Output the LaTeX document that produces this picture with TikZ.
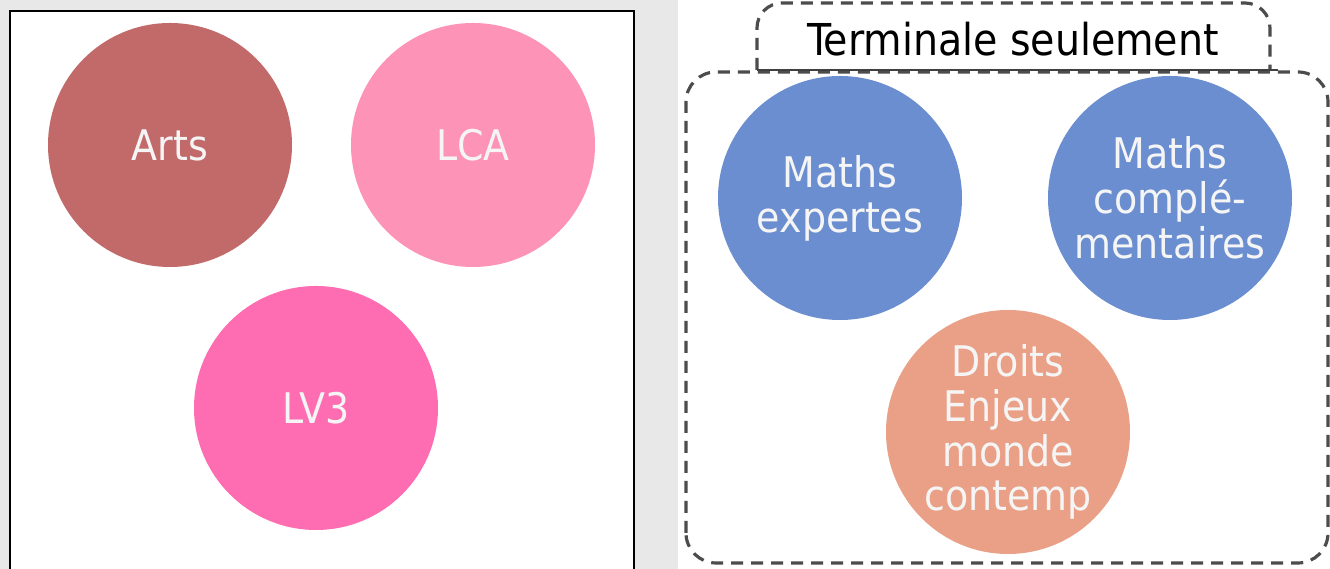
\documentclass[tikz,border=0pt]{standalone}
\usepackage{fontspec}
\setmainfont{DejaVu Sans Condensed}

\definecolor{arts}{HTML}{C26A6A}
\definecolor{lca}{HTML}{FD93B6}
\definecolor{lvtrois}{HTML}{FE6DB1}
\definecolor{maths}{HTML}{6A8ECF}
\definecolor{droits}{HTML}{E9A087}
\definecolor{fond}{HTML}{E8E8E8}

\tikzset{
  bulle/.style={circle,minimum size=4.88cm,inner sep=0pt,text=white!96!black,
    align=center,font=\fontsize{24}{25.5}\selectfont},
  cadre/.style={draw=black!70,line width=1.8pt,dash pattern=on 0.24cm off 0.16cm}
}

\begin{document}
\begin{tikzpicture}
\useasboundingbox (0,0) rectangle (26.6,11.38);
% fond
\fill[fond] (0,0) rectangle (26.6,11.38);
\fill[white] (13.56,0) rectangle (26.6,11.38);
% panneau de gauche
\draw[line width=1.2pt,fill=white] (0.2,-0.5) -- (0.2,11.16) -- (12.68,11.16) -- (12.68,-0.5);
\node[bulle,fill=arts] (arts) at (3.4,8.48) {Arts};
\node[bulle,fill=lca] (lca) at (9.46,8.48) {LCA};
\node[bulle,fill=lvtrois] (lv3) at (6.32,3.22) {LV3};
% panneau de droite
\draw[cadre,rounded corners=0.6cm] (13.72,0.12) rectangle (26.56,9.94);
\draw[cadre,rounded corners=0.5cm] (15.14,9.98) -- (15.14,11.32) -- (25.4,11.32) -- (25.4,9.98);
\draw[black!75,line width=1.6pt] (15.14,9.98) -- (25.56,9.98);
\node[font=\fontsize{25}{25}\selectfont] (titre) at (20.26,10.6) {Terminale seulement};
\node[bulle,fill=maths] (mexp) at (16.8,7.42) {Maths\\expertes};
\node[bulle,fill=maths] (mcomp) at (23.4,7.42) {Maths\\complé-\\mentaires};
\node[bulle,fill=droits] (dgemc) at (20.16,2.74) {Droits\\Enjeux\\monde\\contemp};
\end{tikzpicture}
\end{document}
